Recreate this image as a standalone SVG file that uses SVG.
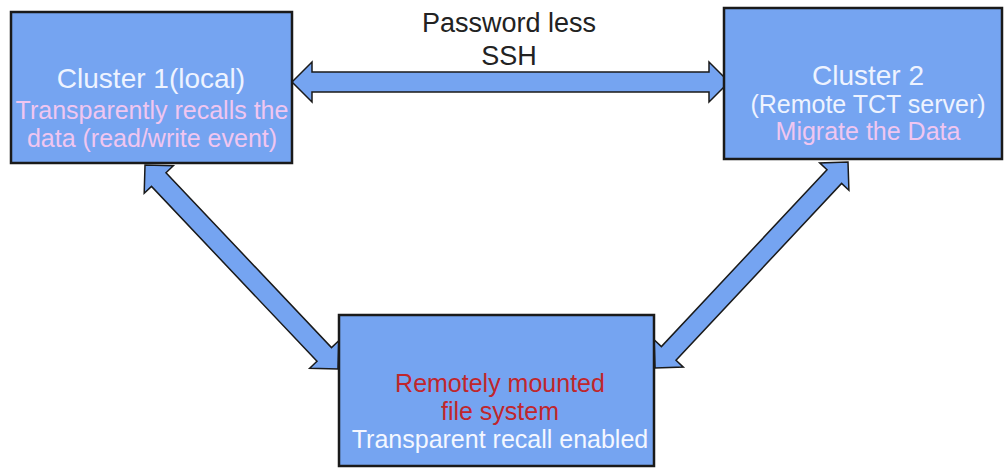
<svg xmlns="http://www.w3.org/2000/svg" width="1005" height="470" viewBox="0 0 1005 470">
<style>
.box{fill:#75a4f1;stroke:#1a1a1a;stroke-width:2.5}
.arr{fill:#75a4f1;stroke:#1a1a1a;stroke-width:1.5;stroke-linejoin:miter}
text{font-family:"Liberation Sans",Arial,sans-serif;text-anchor:middle}
.t{font-size:28px;fill:#eef3ff}
.s{font-size:25px;fill:#f0c6f0}
.r{font-size:25px;fill:#c0262c}
.w{font-size:25px;fill:#f4f7ff}
.lbl{font-size:27px;fill:#222}
</style>
<rect width="1005" height="470" fill="#ffffff"/>
<g id="connectors">
<polygon class="arr" points="292,82 312,62 312,72 709,72 709,62 729,82 709,102 709,92 312,92 312,102"/>
<polygon class="arr" points="145,165 173.3,165.8 166,172.7 331.5,347.6 338.8,340.7 338,369 309.7,368.2 317,361.3 151.5,186.4 144.2,193.3"/>
<polygon class="arr" points="848,162 848.9,190.3 841.6,183.4 676,360.3 683.3,367.1 655,368 654.1,339.7 661.4,346.6 827,169.8 819.7,162.9"/>
<text class="lbl" x="509" y="32">Password less</text>
<text class="lbl" x="509" y="65">SSH</text>
</g>
<g id="cluster1">
<rect class="box" x="11" y="12" width="281" height="151"/>
<text class="t" x="151" y="88">Cluster 1(local)</text>
<text class="s" x="152" y="119">Transparently recalls the</text>
<text class="s" x="152" y="147">data (read/write event)</text>
</g>
<g id="cluster2">
<rect class="box" x="724" y="8" width="278" height="151"/>
<text class="t" x="868" y="85">Cluster 2</text>
<text class="s" x="868" y="113" style="fill:#eef3ff">(Remote TCT server)</text>
<text class="s" x="868" y="140">Migrate the Data</text>
</g>
<g id="remote-fs">
<rect class="box" x="339" y="315" width="315" height="151"/>
<text class="r" x="500" y="392">Remotely mounted</text>
<text class="r" x="500" y="420">file system</text>
<text class="w" x="500" y="448">Transparent recall enabled</text>
</g>
</svg>
